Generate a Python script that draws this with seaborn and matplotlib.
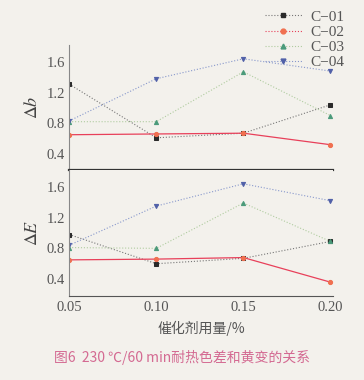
import matplotlib
matplotlib.use("Agg")
import matplotlib.pyplot as plt
import seaborn as sns
import pandas as pd
from matplotlib.ticker import MultipleLocator, FixedLocator
from matplotlib.lines import Line2D

dosage = [0.05, 0.10, 0.15, 0.20]
series = ["C-01", "C-02", "C-03", "C-04"]
labels = ["C\u221201", "C\u221202", "C\u221203", "C\u221204"]
db_c01 = [1.31, 0.61, 0.67, 1.04]
db_c02 = [0.65, 0.66, 0.67, 0.52]
db_c03 = [0.82, 0.82, 1.47, 0.90]
db_c04 = [0.83, 1.38, 1.64, 1.48]
de_c01 = [0.98, 0.60, 0.67, 0.89]
de_c02 = [0.65, 0.66, 0.68, 0.36]
de_c03 = [0.81, 0.80, 1.39, 0.89]
de_c04 = [0.84, 1.35, 1.64, 1.42]
yticks = [0.4, 0.8, 1.2, 1.6]
xticks = ["0.05", "0.10", "0.15", "0.20"]

colors = {"C-01": "#2a2a2a", "C-02": "#f07050", "C-03": "#4a9a7a", "C-04": "#5060a8"}
line_colors = {"C-01": "#777777", "C-02": "#e8405a", "C-03": "#b0cca0", "C-04": "#8898cc"}
markers = {"C-01": "s", "C-02": "o", "C-03": "^", "C-04": "v"}
lstyle = {"C-01": ":", "C-02": "-", "C-03": ":", "C-04": ":"}

sns.set_style("white")
plt.rcParams["font.family"] = ["Liberation Serif", "Noto Sans CJK SC", "DejaVu Sans"]
plt.rcParams["mathtext.fontset"] = "stix"
bg = "#f3f1ec"
fig = plt.figure(figsize=(3.64, 3.80), dpi=100, facecolor=bg)
ax1 = fig.add_axes([0.19, 0.5526, 0.725, 0.329])
ax2 = fig.add_axes([0.19, 0.2211, 0.725, 0.3316])

def draw(ax, data, ylim):
    ax.set_facecolor(bg)
    for s, vals in zip(series, data):
        df = pd.DataFrame({"x": dosage, "y": vals})
        sns.lineplot(data=df, x="x", y="y", ax=ax, color=line_colors[s],
                     linestyle=lstyle[s], linewidth=0.9 if s == "C-02" else 0.8,
                     marker=markers[s], markersize=3, markerfacecolor=colors[s],
                     markeredgecolor=colors[s])
    ax.set_xlim(0.05, 0.2015)
    ax.set_ylim(*ylim)
    ax.yaxis.set_major_locator(FixedLocator(yticks))
    ax.yaxis.set_minor_locator(MultipleLocator(0.2))
    ax.set_xticks(dosage)
    for sp in ["top", "right"]:
        ax.spines[sp].set_visible(False)
    ax.spines["left"].set_color("#888888")
    ax.spines["left"].set_linewidth(0.8)
    ax.spines["bottom"].set_color("#555555")
    ax.tick_params(axis="y", which="major", direction="in", length=3, color="#777777",
                   labelsize=10.5, labelcolor="#555555", pad=3)
    ax.tick_params(axis="y", which="minor", direction="in", length=1.5, color="#999999")
    ax.tick_params(axis="x", direction="in", length=3, color="#777777",
                   labelsize=10.5, labelcolor="#555555")

draw(ax1, [db_c01, db_c02, db_c03, db_c04], (0.19, 1.82))
draw(ax2, [de_c01, de_c02, de_c03, de_c04], (0.18, 1.82))
ax1.set_xticklabels([])
ax1.spines["bottom"].set_linewidth(1.6)
ax1.spines["bottom"].set_color("#333333")
ax2.set_xticklabels(xticks)
ax1.set_xlabel("")
ax1.set_ylabel(r"$\Delta b$", fontsize=13, color="#444444", labelpad=4)
ax2.set_ylabel(r"$\Delta E$", fontsize=13, color="#444444", labelpad=4)
ax2.set_xlabel("催化剂用量/%", fontsize=10, color="#555555", labelpad=5,
               family=["Noto Sans CJK SC", "DejaVu Sans"])

handles = [Line2D([0], [0], color=line_colors[s], linestyle=":", linewidth=0.8,
                  marker=markers[s], markersize=3.5, markerfacecolor=colors[s],
                  markeredgecolor=colors[s]) for s in series]
fig.legend(handles, labels, loc="upper left", bbox_to_anchor=(0.69, 1.01),
           frameon=False, fontsize=11, handlelength=2.4, labelspacing=0.1,
           handletextpad=0.6, labelcolor="#555555")

fig.text(0.5, 0.06, "图6  230 ℃/60 min耐热色差和黄变的关系", ha="center", va="center",
         fontsize=10, color="#d46a92", family=["Noto Sans CJK SC", "DejaVu Sans"])

fig.savefig("out.png", dpi=100, facecolor=bg)
